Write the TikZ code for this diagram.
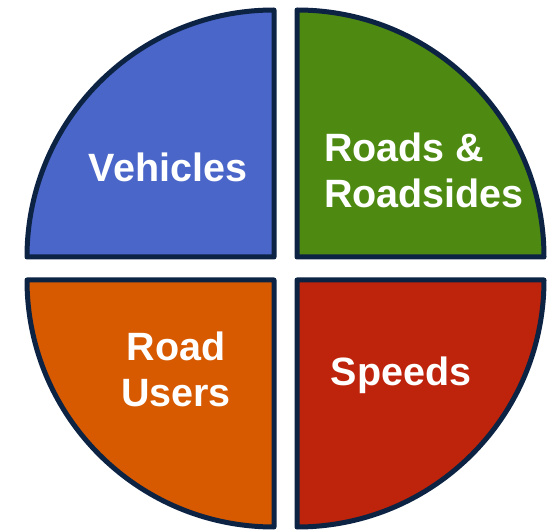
\documentclass[tikz,border=0pt]{standalone}
\usepackage{fontspec}
\setmainfont{Liberation Sans}
\definecolor{cblue}{HTML}{4A66C8}
\definecolor{cgreen}{HTML}{4E8A12}
\definecolor{corange}{HTML}{D75A00}
\definecolor{cred}{HTML}{BE230B}
\definecolor{cborder}{HTML}{0D2344}
\begin{document}
\begin{tikzpicture}[x=1pt,y=1pt,
  sector/.style={draw=cborder,line width=5pt,line join=round},
  label/.style={text=white,font=\fontsize{39.5}{46}\selectfont\bfseries,inner sep=0pt}]
\useasboundingbox (0,0) rectangle (555,531);
\filldraw[sector,fill=cblue] (274,274) -- ++(-247,0) arc[start angle=180,end angle=90,radius=247] -- cycle;
\filldraw[sector,fill=cgreen] (297,274) -- ++(247,0) arc[start angle=0,end angle=90,radius=247] -- cycle;
\filldraw[sector,fill=corange] (274,251) -- ++(-247,0) arc[start angle=180,end angle=270,radius=247] -- cycle;
\filldraw[sector,fill=cred] (297,251) -- ++(247,0) arc[start angle=0,end angle=-90,radius=247] -- cycle;
\node[label] (veh) at (168,364) {Vehicles};
\node[label,align=left] (roads) at (424,361) {Roads \&\\Roadsides};
\node[label,align=center] (users) at (176,162) {Road\\Users};
\node[label] (speeds) at (401,156) {Speeds};
\end{tikzpicture}
\end{document}
